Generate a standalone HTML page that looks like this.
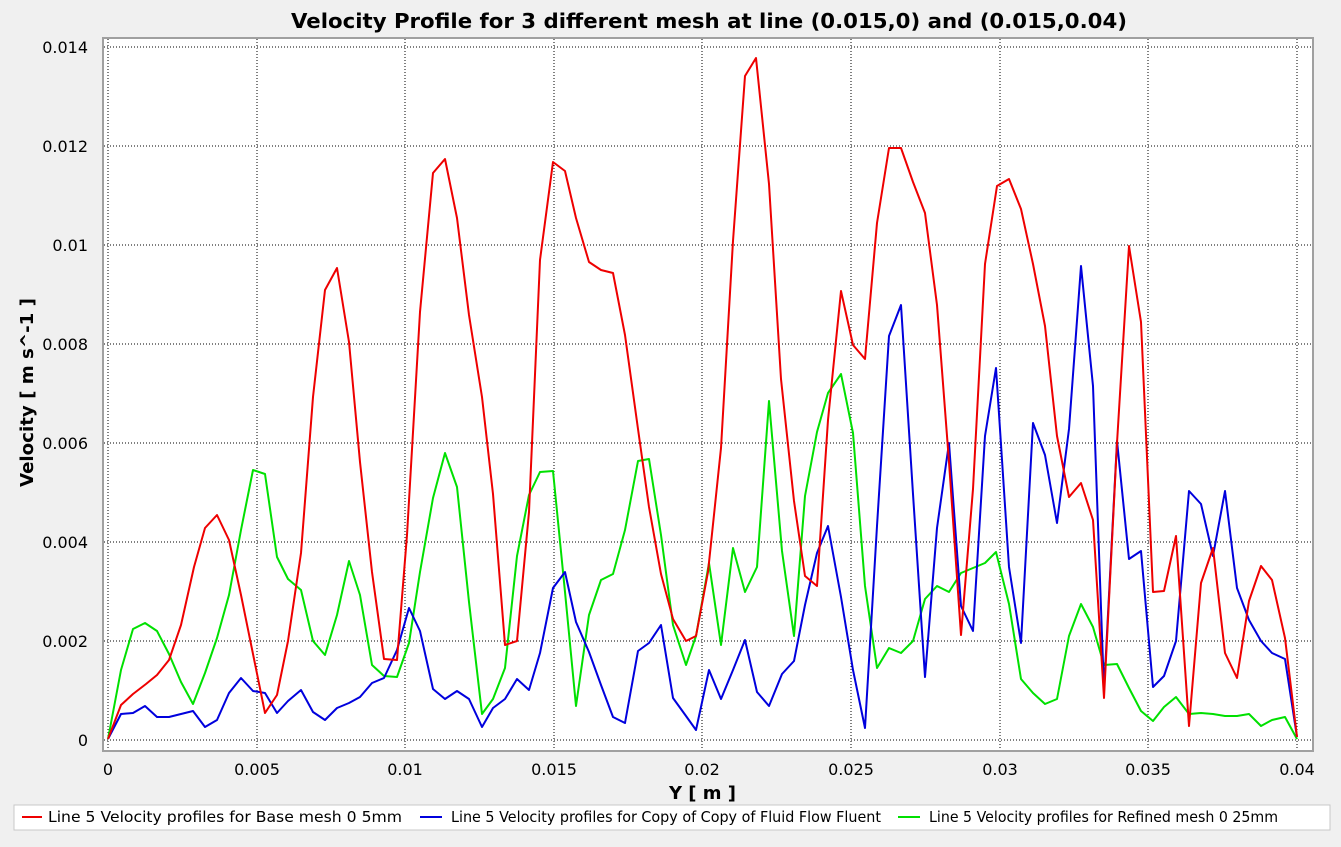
<!DOCTYPE html>
<html><head><meta charset="utf-8"><style>
body{margin:0;background:#f0f0f0}
</style></head><body>
<svg width="1341" height="842" xmlns="http://www.w3.org/2000/svg" font-family="DejaVu Sans, sans-serif">
<rect width="1341" height="842" fill="#f0f0f0"/>
<text x="291" y="28" font-size="20" font-weight="bold" fill="#000" textLength="836" lengthAdjust="spacingAndGlyphs">Velocity Profile for 3 different mesh at line (0.015,0) and (0.015,0.04)</text>
<rect x="103" y="38" width="1210" height="713" fill="#fff" stroke="#a0a0a0" stroke-width="2"/>
<g stroke="#000" stroke-width="1" stroke-dasharray="1,2">
<line x1="104" x2="1312" y1="47" y2="47"/><line x1="104" x2="1312" y1="146" y2="146"/><line x1="104" x2="1312" y1="245" y2="245"/><line x1="104" x2="1312" y1="344" y2="344"/><line x1="104" x2="1312" y1="443" y2="443"/><line x1="104" x2="1312" y1="542" y2="542"/><line x1="104" x2="1312" y1="641" y2="641"/><line x1="104" x2="1312" y1="740" y2="740"/>
<line y1="39" y2="750" x1="108" x2="108"/><line y1="39" y2="750" x1="257" x2="257"/><line y1="39" y2="750" x1="405" x2="405"/><line y1="39" y2="750" x1="554" x2="554"/><line y1="39" y2="750" x1="702" x2="702"/><line y1="39" y2="750" x1="851" x2="851"/><line y1="39" y2="750" x1="1000" x2="1000"/><line y1="39" y2="750" x1="1148" x2="1148"/><line y1="39" y2="750" x1="1297" x2="1297"/>
</g>
<g font-size="16" fill="#000" text-anchor="end">
<text x="88" y="53">0.014</text><text x="88" y="152">0.012</text><text x="88" y="251">0.01</text><text x="88" y="350">0.008</text><text x="88" y="449">0.006</text><text x="88" y="548">0.004</text><text x="88" y="647">0.002</text><text x="88" y="746">0</text>
</g>
<g font-size="16" fill="#000" text-anchor="middle">
<text x="108" y="775">0</text><text x="257" y="775">0.005</text><text x="405" y="775">0.01</text><text x="554" y="775">0.015</text><text x="702" y="775">0.02</text><text x="851" y="775">0.025</text><text x="1000" y="775">0.03</text><text x="1148" y="775">0.035</text><text x="1297" y="775">0.04</text>
</g>
<text x="669" y="799" font-size="18" font-weight="bold" textLength="67" lengthAdjust="spacingAndGlyphs">Y [ m ]</text>
<text transform="translate(33,487) rotate(-90)" font-size="18" font-weight="bold" textLength="189" lengthAdjust="spacingAndGlyphs">Velocity [ m s^-1 ]</text>
<g fill="none" stroke-width="2" stroke-linejoin="round">
<polyline stroke="#00e000" points="108,739 121,670 133,629 145,623 157,631 169,654 181,682 193,704 205,673 217,638 229,595 241,530 253,470 265,474 277,557 288,579 301,590 313,641 325,655 337,615 349,561 360,595 372,665 384,676 397,677 409,643 420,572 433,498 445,453 457,487 469,602 482,714 493,699 505,668 517,556 529,495 540,472 553,471 565,592 576,706 589,615 601,580 613,574 625,530 638,461 649,459 661,535 673,625 686,665 696,636 709,563 721,645 733,548 745,592 757,567 769,401 782,551 794,636 805,496 817,432 828,393 841,374 853,433 865,586 877,668 889,648 901,653 913,641 925,599 937,586 949,592 961,573 973,568 985,563 996,552 1009,604 1021,679 1033,693 1045,704 1057,699 1069,636 1081,604 1093,627 1104,665 1117,664 1129,688 1141,711 1153,721 1164,707 1176,697 1189,714 1201,713 1213,714 1225,716 1237,716 1249,714 1261,726 1272,720 1285,717 1297,739"/>
<polyline stroke="#0000dd" points="108,739 121,714 133,713 145,706 157,717 169,717 181,714 193,711 205,727 217,720 229,693 241,678 253,691 265,693 277,713 288,701 301,690 313,712 325,720 337,708 349,703 360,697 372,683 384,678 397,650 409,608 420,631 433,689 445,699 457,691 469,699 482,727 493,708 505,699 517,679 529,690 540,653 553,588 565,572 576,622 589,652 601,685 613,717 625,723 638,651 649,643 661,625 673,698 686,716 696,730 709,670 721,699 733,670 745,640 757,692 769,706 782,674 794,661 805,605 817,553 828,526 841,597 853,670 865,728 877,526 889,336 901,305 913,494 925,677 937,528 949,443 961,606 973,631 985,436 996,368 1009,567 1021,643 1033,423 1045,455 1057,523 1069,429 1081,266 1093,386 1104,691 1117,441 1129,559 1141,551 1153,687 1164,676 1176,641 1189,491 1201,504 1213,556 1225,491 1237,588 1249,620 1261,641 1272,653 1285,659 1297,737"/>
<polyline stroke="#ee0000" points="108,739 121,705 133,694 146,684 157,675 169,660 181,625 194,567 205,528 217,515 229,540 241,595 253,654 265,713 277,695 288,641 301,553 313,397 325,290 337,268 349,342 360,462 372,572 384,659 397,660 407,535 420,312 433,173 445,159 457,218 469,315 482,397 493,494 505,645 517,641 529,512 540,260 553,162 565,171 576,218 589,262 601,270 613,273 625,335 638,429 649,507 661,574 673,619 686,641 696,636 708,572 721,448 733,241 745,76 756,58 769,184 781,379 794,501 805,576 817,586 828,420 841,291 853,345 865,359 877,223 889,148 901,148 913,182 925,213 937,305 949,462 961,635 973,489 985,264 997,186 1009,179 1021,209 1033,264 1045,326 1057,436 1069,497 1081,483 1093,520 1104,698 1117,443 1129,246 1141,322 1153,592 1164,591 1176,536 1189,726 1201,583 1213,548 1225,653 1237,678 1249,601 1261,566 1272,580 1285,638 1297,737"/>
</g>
<rect x="14" y="805" width="1316" height="25" fill="#fff" stroke="#c8c8c8"/>
<g font-size="15" fill="#000">
<line x1="22" x2="42" y1="817" y2="817" stroke="#ee0000" stroke-width="2"/><text x="48" y="822" textLength="354" lengthAdjust="spacingAndGlyphs">Line 5 Velocity profiles for Base mesh 0 5mm</text>
<line x1="420" x2="442" y1="817" y2="817" stroke="#0000dd" stroke-width="2"/><text x="451" y="822" textLength="430" lengthAdjust="spacingAndGlyphs">Line 5 Velocity profiles for Copy of Copy of Fluid Flow Fluent</text>
<line x1="898" x2="920" y1="817" y2="817" stroke="#00e000" stroke-width="2"/><text x="929" y="822" textLength="349" lengthAdjust="spacingAndGlyphs">Line 5 Velocity profiles for Refined mesh 0 25mm</text>
</g>
</svg>
</body></html>
